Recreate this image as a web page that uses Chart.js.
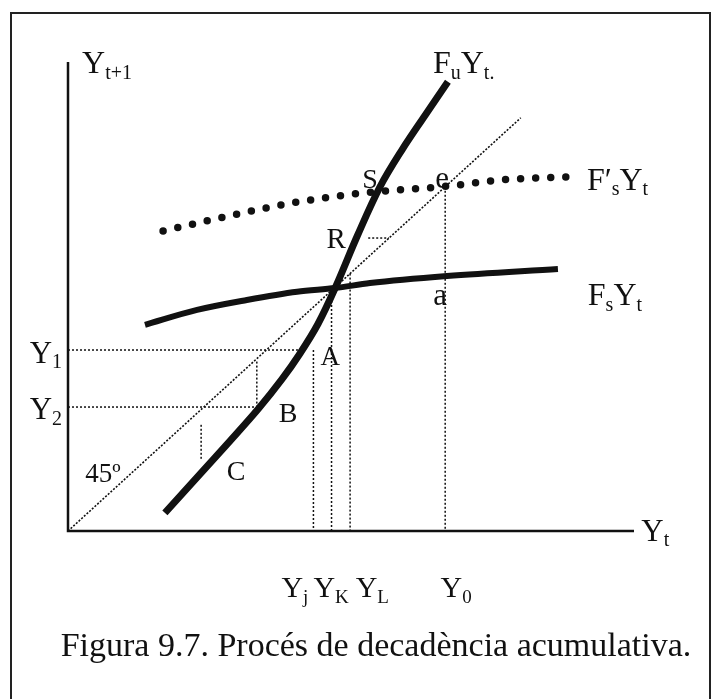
<!DOCTYPE html>
<html>
<head>
<meta charset="utf-8">
<script src="https://cdn.jsdelivr.net/npm/chart.js@4.4.1/dist/chart.umd.min.js"></script>
<style>
  html, body { margin: 0; padding: 0; background: #fff; }
  #wrap { width: 721px; height: 699px; }
</style>
</head>
<body>
<div id="wrap"><canvas id="fig"></canvas></div>
<script>
// F_u Y_t (unstable, thick S-shaped curve)
var fuX = [2.14, 2.92, 3.58, 4.20, 4.73, 5.12, 5.52, 5.90, 6.40, 6.89, 7.38, 7.88, 8.39];
var fuY = [0.44, 1.38, 2.18, 2.95, 3.68, 4.29, 5.01, 5.88, 7.17, 8.33, 9.23, 10.05, 10.87];
// F_s Y_t (stable, flat thick curve)
var fsX = [1.70, 2.85, 3.95, 5.06, 5.90, 6.67, 8.37, 10.82];
var fsY = [4.99, 5.35, 5.59, 5.79, 5.88, 6.00, 6.17, 6.34];
// F'_s Y_t (shifted stable curve, big dots)
var fpX = [2.10, 3.78, 5.12, 6.51, 8.33, 9.61, 11.02];
var fpY = [7.26, 7.68, 7.97, 8.18, 8.34, 8.50, 8.57];
// 45 degree line
var diagX = [0, 10];
var diagY = [0, 10];
// levels on the axes
var yLevels = [4.38, 3.00];             // Y1, Y2
var xLevels = [5.42, 5.82, 6.23, 8.33]; // Yj, YK, YL, Y0
// dotted guide segments [x1, y1, x2, y2]
var guides = [
  [0, yLevels[0], 5.17, yLevels[0]],
  [0, yLevels[1], 4.22, yLevels[1]],
  [4.17, 4.10, 4.17, yLevels[1]],
  [2.94, 2.57, 2.94, 1.72],
  [xLevels[0], yLevels[0], xLevels[0], 0],
  [xLevels[1], 5.76, xLevels[1], 0],
  [xLevels[2], 6.23, xLevels[2], 0],
  [xLevels[3], 8.33, xLevels[3], 0],
  [6.63, 7.09, 7.09, 7.09]
];

function pts(xs, ys) {
  return xs.map(function(x, i) { return { x: x, y: ys[i] }; });
}

var ink = '#111';
var datasets = [];

guides.forEach(function(g) {
  datasets.push({
    data: [{ x: g[0], y: g[1] }, { x: g[2], y: g[3] }],
    borderColor: ink, borderWidth: 1.5, borderDash: [2, 2], pointRadius: 0, clip: false
  });
});
datasets.push({
  data: pts(diagX, diagY),
  borderColor: ink, borderWidth: 1.6, borderDash: [2, 1.6], pointRadius: 0, clip: false
});
// axes
datasets.push({ data: [{ x: 0, y: 11.35 }, { x: 0, y: 0 }, { x: 12.5, y: 0 }],
  borderColor: ink, borderWidth: 2.5, pointRadius: 0, clip: false, borderJoinStyle: 'miter' });
datasets.push({
  data: pts(fsX, fsY),
  borderColor: ink, borderWidth: 6, pointRadius: 0, cubicInterpolationMode: 'monotone', clip: false
});
datasets.push({
  data: pts(fpX, fpY),
  borderColor: ink, borderWidth: 7.5, borderDash: [0, 15.08], borderCapStyle: 'round',
  pointRadius: 0, cubicInterpolationMode: 'monotone', clip: false
});
datasets.push({
  data: pts(fuX, fuY),
  borderColor: ink, borderWidth: 7, pointRadius: 0, tension: 0.35, clip: false
});

// text labels: parts starting with "_" are subscripts
var labels = [
  { parts: ['Y', '_t+1'], x: 0.31, y: 11.09, size: 32, align: 'left' },
  { parts: ['F', '_u', 'Y', '_t.'], x: 8.06, y: 11.09, size: 32, align: 'left' },
  { parts: ['F\u2032', '_s', 'Y', '_t'], x: 11.46, y: 8.26, size: 32, align: 'left' },
  { parts: ['F', '_s', 'Y', '_t'], x: 11.48, y: 5.47, size: 32, align: 'left' },
  { parts: ['Y', '_t'], x: 12.66, y: -0.24, size: 31, align: 'left' },
  { parts: ['S'], x: 6.67, y: 8.31, size: 28, align: 'center' },
  { parts: ['e'], x: 8.26, y: 8.31, size: 31, align: 'center' },
  { parts: ['R'], x: 5.92, y: 6.85, size: 29, align: 'center' },
  { parts: ['a'], x: 8.22, y: 5.47, size: 31, align: 'center' },
  { parts: ['A'], x: 5.79, y: 4.02, size: 27, align: 'center' },
  { parts: ['B'], x: 4.86, y: 2.64, size: 28, align: 'center' },
  { parts: ['C'], x: 3.71, y: 1.23, size: 28, align: 'center' },
  { parts: ['45\u00ba'], x: 0.38, y: 1.19, size: 27, align: 'left' },
  { parts: ['Y', '_1'], x: -0.13, y: yLevels[0] - 0.31, size: 31, align: 'right' },
  { parts: ['Y', '_2'], x: -0.13, y: yLevels[1] - 0.30, size: 31, align: 'right' },
  { parts: ['Y', '_j'], x: 5.01, y: -1.60, size: 30, align: 'center' },
  { parts: ['Y', '_K'], x: 5.81, y: -1.60, size: 30, align: 'center' },
  { parts: ['Y', '_L'], x: 6.72, y: -1.60, size: 30, align: 'center' },
  { parts: ['Y', '_0'], x: 8.57, y: -1.60, size: 30, align: 'center' }
];
var caption = 'Figura 9.7. Procés de decadència acumulativa.';

function drawLabel(ctx, parts, px, py, size, align) {
  var main = size + 'px "Liberation Serif"';
  var sub = Math.round(size * 0.64) + 'px "Liberation Serif"';
  var w = 0;
  parts.forEach(function(p) {
    ctx.font = p[0] === '_' ? sub : main;
    w += ctx.measureText(p[0] === '_' ? p.slice(1) : p).width;
  });
  var x = align === 'left' ? px : align === 'right' ? px - w : px - w / 2;
  ctx.textAlign = 'left';
  ctx.textBaseline = 'alphabetic';
  parts.forEach(function(p) {
    var isSub = p[0] === '_';
    var t = isSub ? p.slice(1) : p;
    ctx.font = isSub ? sub : main;
    ctx.fillText(t, x, py + (isSub ? size * 0.18 : 0));
    x += ctx.measureText(t).width;
  });
}

var textPlugin = {
  id: 'figText',
  afterDraw: function(chart) {
    var ctx = chart.ctx, sx = chart.scales.x, sy = chart.scales.y;
    ctx.save();
    ctx.strokeStyle = '#222';
    ctx.lineWidth = 2;
    ctx.strokeRect(11, 13, 699, 720);
    ctx.fillStyle = ink;
    labels.forEach(function(l) {
      drawLabel(ctx, l.parts, sx.getPixelForValue(l.x), sy.getPixelForValue(l.y), l.size, l.align);
    });
    ctx.font = '34px "Liberation Serif"';
    ctx.textAlign = 'center';
    ctx.fillText(caption, 376, 656);
    ctx.restore();
  }
};

new Chart(document.getElementById('fig').getContext('2d'), {
  type: 'scatter',
  data: { datasets: datasets },
  options: {
    responsive: true,
    maintainAspectRatio: false,
    animation: false,
    showLine: true,
    layout: { padding: { left: 68, right: 87, top: 62, bottom: 168 } },
    scales: {
      x: { type: 'linear', min: 0, max: 12.5, display: false },
      y: { type: 'linear', min: 0, max: 11.35, display: false }
    },
    plugins: { legend: { display: false }, tooltip: { enabled: false } }
  },
  plugins: [textPlugin]
});
</script>
</body>
</html>
